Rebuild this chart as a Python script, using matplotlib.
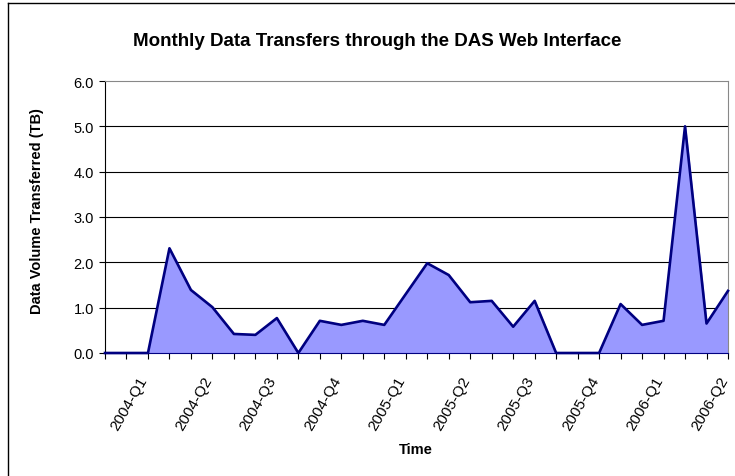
import matplotlib
matplotlib.use('Agg')
import matplotlib.pyplot as plt
from matplotlib.lines import Line2D

plt.rcParams['font.family'] = ['Liberation Sans', 'DejaVu Sans']

# monthly transfers, Jan 2004 .. Jun 2006 (TB)
volumes = [0.0, 0.0, 0.0, 2.31, 1.39, 1.01, 0.42, 0.40, 0.77, 0.0,
           0.71, 0.62, 0.71, 0.62, 1.30, 1.98, 1.72, 1.12, 1.15, 0.58,
           1.15, 0.0, 0.0, 0.0, 1.08, 0.62, 0.71, 5.0, 0.65, 1.37]
quarter_labels = ['2004-Q1', '2004-Q2', '2004-Q3', '2004-Q4',
                  '2005-Q1', '2005-Q2', '2005-Q3', '2005-Q4',
                  '2006-Q1', '2006-Q2']
quarter_pos = [2, 5, 8, 11, 14, 17, 20, 23, 26, 29]
y_ticks = [0.0, 1.0, 2.0, 3.0, 4.0, 5.0, 6.0]

months = list(range(len(volumes)))

fig = plt.figure(figsize=(7.35, 4.77), dpi=100)
ax = fig.add_axes([105/735, 1 - 354/477, 623/735, 272/477])

ax.fill_between(months, volumes, 0, color='#9999FF', zorder=2)
ax.plot(months, volumes, color='#000080', lw=1.9, zorder=3, clip_on=False)

ax.set_xlim(0, len(volumes) - 1)
ax.set_ylim(0, 6)
ax.set_yticks(y_ticks)
ax.set_yticklabels([f'{v:.1f}' for v in y_ticks], fontsize=10.5)
for v in y_ticks[1:-1]:
    ax.axhline(v, color='black', lw=0.8, zorder=1)

ax.set_xticks(months)
ax.set_xticklabels([''] * len(months))
for p, lab in zip(quarter_pos, quarter_labels):
    ax.text(p - 0.45, -0.45, lab, rotation=60, ha='right', va='top',
            rotation_mode='anchor', fontsize=11)

ax.tick_params(axis='both', direction='out', length=4, width=0.8, color='black')
ax.tick_params(axis='y', pad=4)
ax.spines['left'].set_color('black')
ax.spines['bottom'].set_color('#000080')
ax.spines['top'].set_color('#888888')
ax.spines['right'].set_color('#888888')
for s in ax.spines.values():
    s.set_linewidth(0.8)

fig.text(377/735, 1 - 42/477, 'Monthly Data Transfers through the DAS Web Interface',
         ha='center', va='center', fontsize=13.5, fontweight='bold')
fig.text(37/735, 1 - 211/477, 'Data Volume Transferred (TB)', rotation=90,
         ha='center', va='center', fontsize=10.5, fontweight='bold')
fig.text(416/735, 1 - 450/477, 'Time', ha='center', va='center',
         fontsize=10.5, fontweight='bold')

# chart frame (cropped on right and bottom)
fig.add_artist(Line2D([8/735, 8/735], [0, 1 - 4/477], transform=fig.transFigure,
                      color='black', lw=1.0))
fig.add_artist(Line2D([8/735, 1], [1 - 4/477, 1 - 4/477], transform=fig.transFigure,
                      color='black', lw=1.0))

fig.savefig('out.png', dpi=100)
